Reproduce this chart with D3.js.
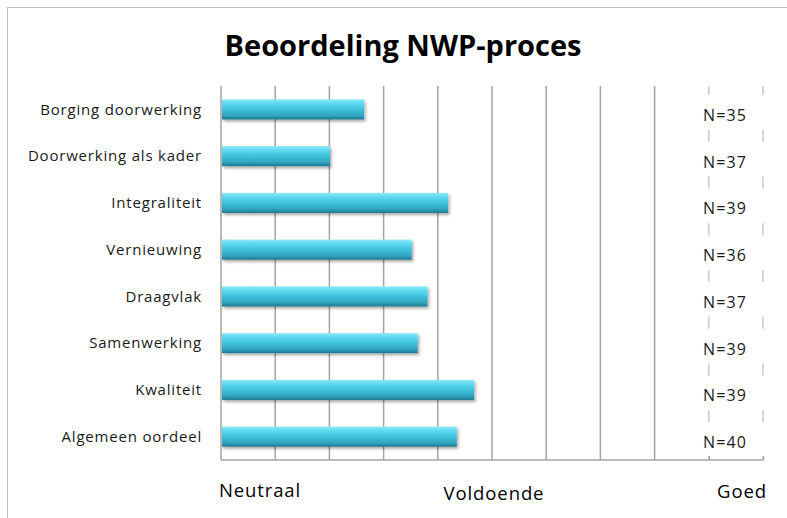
<!DOCTYPE html>
<html>
<head>
<meta charset="utf-8">
<script src="https://cdn.jsdelivr.net/npm/d3@7"></script>
<style>
  html, body { margin: 0; padding: 0; background: #fff; }
  svg { display: block; }
</style>
</head>
<body>
<svg id="chart" width="787" height="518"></svg>
<script>
// ---- data ----
const categories = [
  "Borging doorwerking",
  "Doorwerking als kader",
  "Integraliteit",
  "Vernieuwing",
  "Draagvlak",
  "Samenwerking",
  "Kwaliteit",
  "Algemeen oordeel"
];
const scores = [2.64, 2.01, 4.19, 3.52, 3.81, 3.63, 4.67, 4.35];
const counts = ["N=35", "N=37", "N=39", "N=36", "N=37", "N=39", "N=39", "N=40"];
const scaleLabels = ["Neutraal", "Voldoende", "Goed"];
const scaleLabelValues = [0, 5, 10];
const title = "Beoordeling NWP-proces";

// ---- layout ----
const W = 787, H = 518;
const plot = { left: 221, right: 763, top: 86, bottom: 460 };
const svg = d3.select("#chart");
const font = "'Open Sans', 'Liberation Sans', sans-serif";

const x = d3.scaleLinear().domain([0, 10]).range([plot.left, plot.right]);
const y = d3.scaleBand().domain(categories)
  .range([plot.top, plot.bottom]).paddingInner(0.57).paddingOuter(0.285);

// defs: gradient + shadow
const defs = svg.append("defs");
const grad = defs.append("linearGradient").attr("id", "barGrad")
  .attr("x1", 0).attr("y1", 0).attr("x2", 0).attr("y2", 1);
[[0, "#8fe9f8"], [0.18, "#62dbf1"], [0.5, "#3fc1dc"], [0.8, "#33a6c0"], [1, "#1c7690"]]
  .forEach(([o, c]) => grad.append("stop").attr("offset", o).attr("stop-color", c));
const shadow = defs.append("filter").attr("id", "shadow")
  .attr("x", "-5%").attr("y", "-30%").attr("width", "115%").attr("height", "180%");
shadow.append("feDropShadow").attr("dx", 1.5).attr("dy", 2).attr("stdDeviation", 1.5)
  .attr("flood-color", "#000").attr("flood-opacity", 0.35);

// frame (top & left visible)
svg.append("rect").attr("x", 7.5).attr("y", 7.5).attr("width", W + 20).attr("height", H + 20)
  .attr("fill", "#fff").attr("stroke", "#bdbdbd").attr("stroke-width", 1);

// title
svg.append("text").attr("x", 403).attr("y", 56).attr("text-anchor", "middle")
  .attr("font-family", font).attr("font-weight", "bold").attr("font-size", 29)
  .attr("fill", "#000").text(title);

// gridlines
const gridColor = "#a3a3a3";
svg.append("g").selectAll("line").data(d3.range(0, 11)).join("line")
  .attr("x1", d => x(d)).attr("x2", d => x(d))
  .attr("y1", plot.top).attr("y2", plot.bottom)
  .attr("stroke", d => d >= 9 ? "#c8c8c8" : gridColor)
  .attr("stroke-width", 1.5);

// white boxes behind count labels (hide right gridlines)
svg.append("g").selectAll("rect").data(categories).join("rect")
  .attr("x", x(8.6)).attr("width", x(10.2) - x(8.6))
  .attr("y", d => y(d) - y.step() * y.paddingInner() / 2 + 9)
  .attr("height", y.step() - 12)
  .attr("fill", "#fff");

// x axis (bottom)
const xAxis = d3.axisBottom(x).tickValues([9, 10]).tickSize(-4).tickFormat("");
const gx = svg.append("g").attr("transform", `translate(0,${plot.bottom})`).call(xAxis);
gx.select(".domain").attr("stroke", gridColor).attr("stroke-width", 1.5)
  .attr("d", `M${plot.left},0H${plot.right}`);
gx.selectAll(".tick line").attr("stroke", gridColor).attr("stroke-width", 1.5);

// scale labels
svg.append("g").selectAll("text").data(scaleLabels).join("text")
  .attr("x", (d, i) => x(scaleLabelValues[i]))
  .attr("dx", (d, i) => [39, 2, -21][i])
  .attr("y", (d, i) => [497, 500, 498][i])
  .attr("text-anchor", "middle")
  .attr("font-family", font).attr("font-size", 18.5).attr("letter-spacing", 0.9)
  .attr("fill", "#000")
  .text(d => d);

// y axis labels
const yAxis = d3.axisLeft(y).tickSize(0).tickPadding(19);
const gy = svg.append("g").attr("transform", `translate(${plot.left},0)`).call(yAxis);
gy.select(".domain").remove();
gy.selectAll(".tick text").attr("font-family", font).attr("font-size", 15)
  .attr("letter-spacing", 0.8)
  .attr("fill", "#1a1a1a").attr("dy", "0.35em");

// bars
svg.append("g").selectAll("rect").data(categories).join("rect")
  .attr("x", x(0) + 1)
  .attr("y", d => y(d))
  .attr("width", (d, i) => x(scores[i]) - x(0) - 1)
  .attr("height", y.bandwidth())
  .attr("fill", "url(#barGrad)")
  .attr("filter", "url(#shadow)");

// count labels
svg.append("g").selectAll("text").data(categories).join("text")
  .attr("x", x(9.3))
  .attr("y", d => y(d) + y.bandwidth() / 2 + 6)
  .attr("dy", "0.35em")
  .attr("text-anchor", "middle")
  .attr("font-family", font).attr("font-size", 16).attr("letter-spacing", 1.2)
  .attr("fill", "#1a1a1a")
  .text((d, i) => counts[i]);
</script>
</body>
</html>
